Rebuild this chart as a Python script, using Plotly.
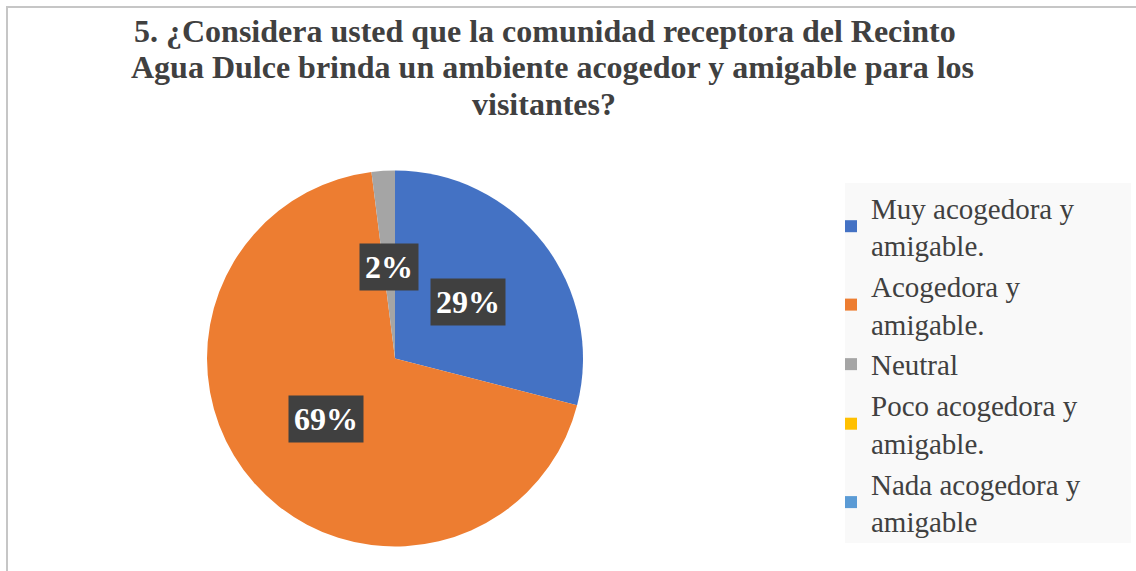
import math
import plotly.graph_objects as go

categories = [
    "Muy acogedora y<br>amigable.",
    "Acogedora y<br>amigable.",
    "Neutral",
    "Poco acogedora y<br>amigable.",
    "Nada acogedora y<br>amigable",
]
values = [29, 69, 2, 0, 0]
colors = ["#4472C4", "#ED7D31", "#A5A5A5", "#FFC000", "#5B9BD5"]
title_lines = [
    "5. ¿Considera usted que la comunidad receptora del Recinto",
    "Agua Dulce brinda un ambiente acogedor y amigable para los",
    "visitantes?",
]

W, H = 1136, 571
cx, cy, r = 395, 358.5, 188  # pie center/radius in pixels (from top-left)
dom_x = [(cx - r) / W, (cx + r) / W]
dom_y = [(H - cy - r) / H, (H - cy + r) / H]

fig = go.Figure()
fig.add_trace(go.Pie(
    labels=categories,
    values=values,
    marker=dict(colors=colors, line=dict(width=0)),
    sort=False,
    direction="clockwise",
    rotation=0,
    textinfo="none",
    hoverinfo="label+percent",
    domain=dict(x=dom_x, y=dom_y),
))

# data labels derived from the values (mid-angle of each slice)
total = sum(values)
cum = 0
for v in values:
    if v > 0:
        theta = 2 * math.pi * (cum + v / 2) / total
        k = 0.49
        dx = k * r * math.sin(theta)
        dy = k * r * math.cos(theta)
        fig.add_annotation(
            x=cx / W + dx / W, y=(H - cy) / H + dy / H,
            xref="paper", yref="paper",
            xanchor="center", yanchor="middle",
            text=f"<b>{round(100 * v / total)}%</b>",
            showarrow=False,
            font=dict(family="Liberation Serif", size=32, color="white"),
            bgcolor="#404040",
            borderpad=5,
        )
    cum += v

# title, one annotation per line to match the tight line spacing
title_centers_y = [31, 67.5, 104]
title_centers_x = [545, 552, 544]
for line, xc, yc in zip(title_lines, title_centers_x, title_centers_y):
    fig.add_annotation(
        x=xc / W, y=1 - yc / H, xref="paper", yref="paper",
        xanchor="center", yanchor="middle", showarrow=False,
        text=f"<b>{line}</b>",
        font=dict(family="Liberation Serif", size=32, color="#404040"),
    )

# chart border
fig.add_shape(type="rect", xref="paper", yref="paper",
              x0=7 / W, x1=1 + 10 / W, y0=-10 / H, y1=1 - 7 / H,
              line=dict(color="#c6c6c6", width=2), fillcolor="rgba(0,0,0,0)")
# legend background panel
fig.add_shape(type="rect", xref="paper", yref="paper", layer="below",
              x0=845 / W, x1=1131 / W, y0=1 - 543 / H, y1=1 - 183 / H,
              line=dict(width=0), fillcolor="#f9f9f9")

fig.update_layout(
    width=W, height=H,
    margin=dict(l=0, r=0, t=0, b=0),
    paper_bgcolor="white",
    plot_bgcolor="rgba(0,0,0,0)",
    showlegend=True,
    legend=dict(
        x=831 / W, xanchor="left",
        y=1 - 182 / H, yanchor="top",
        bgcolor="rgba(0,0,0,0)",
        font=dict(family="Liberation Serif", size=29, color="#404040"),
        traceorder="normal",
    ),
)

fig.write_html("out.html", config={"displayModeBar": False},
               post_script="document.body.style.margin='0';")
